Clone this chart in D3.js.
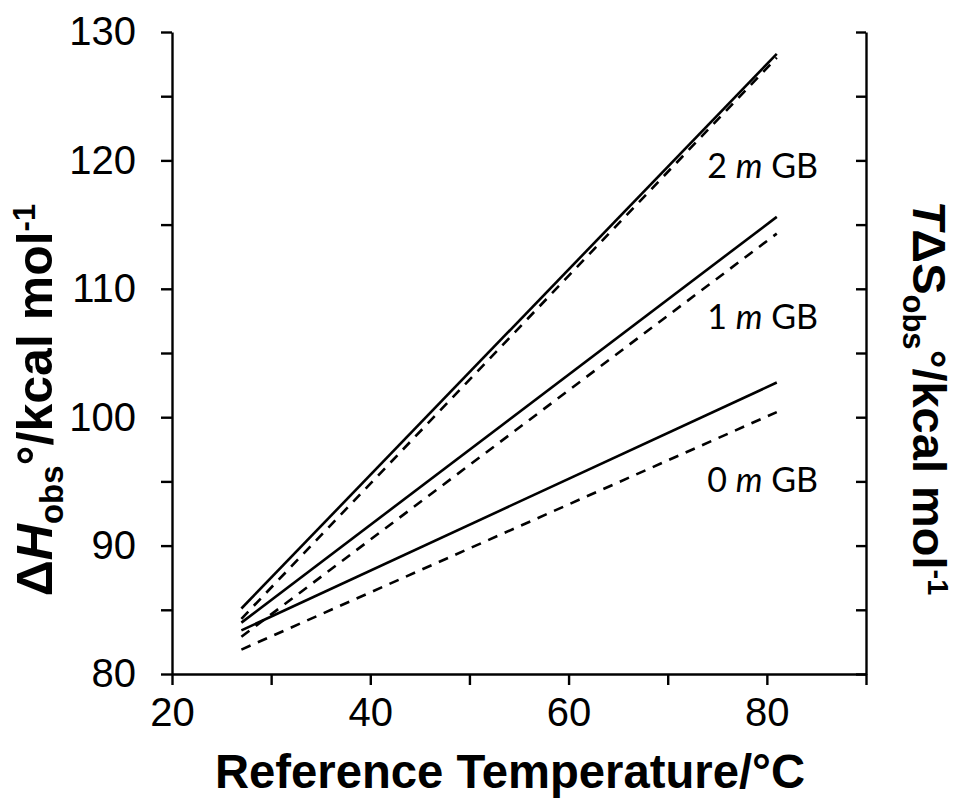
<!DOCTYPE html>
<html>
<head>
<meta charset="utf-8">
<script src="https://cdn.jsdelivr.net/npm/d3@7"></script>
<style>
  body { margin: 0; background: #fff; }
  svg { display: block; }
</style>
</head>
<body>
<div id="chart"></div>
<script>
// data: enthalpy (solid) and entropy term (dashed)
const temps = [27, 81];
const series = ["0 m GB", "1 m GB", "2 m GB"];
const dH = [
  [83.4, 102.7],
  [84.0, 115.6],
  [85.1, 128.3]
];
const TdS = [
  [81.9, 100.4],
  [82.9, 114.3],
  [84.3, 128.0]
];
const labelY = [94.2, 106.9, 118.6];

const xTicks = [20, 40, 60, 80];
const yTicks = [80, 90, 100, 110, 120, 130];

const width = 960;
const height = 798;
const margin = { top: 32, right: 94, bottom: 124, left: 172 };

const svg = d3.select("#chart")
  .append("svg")
  .attr("width", width)
  .attr("height", height);

const x = d3.scaleLinear()
  .domain([20, 90])
  .range([margin.left, width - margin.right]);

const y = d3.scaleLinear()
  .domain([80, 130])
  .range([height - margin.bottom, margin.top]);

const tickFont = "'Liberation Sans', Arial, sans-serif";

// ---------- axes ----------
const axisStroke = 2.4;

// x axis: labels every 20, minor ticks every 10, ticks point down
const xAxis = svg.append("g")
  .attr("transform", `translate(0,${y(80)})`)
  .call(d3.axisBottom(x).tickValues(d3.range(20, 91, 10)).tickSize(11).tickSizeOuter(0)
    .tickFormat(d => xTicks.includes(d) ? d : ""));

// left axis
const yAxis = svg.append("g")
  .attr("transform", `translate(${x(20)},0)`)
  .call(d3.axisLeft(y).tickValues(d3.range(80, 131, 5)).tickSize(11).tickSizeOuter(0)
    .tickFormat(d => yTicks.includes(d) ? d : ""));

// right axis, ticks inside, no labels
const yAxisR = svg.append("g")
  .attr("transform", `translate(${x(90)},0)`)
  .call(d3.axisLeft(y).tickValues(d3.range(80, 131, 5)).tickSize(10).tickSizeOuter(0)
    .tickFormat(""));

[xAxis, yAxis, yAxisR].forEach(g => {
  g.select(".domain").attr("stroke", "#000").attr("stroke-width", axisStroke);
  g.selectAll(".tick line").attr("stroke", "#000").attr("stroke-width", axisStroke);
  g.selectAll(".tick text")
    .attr("fill", "#000")
    .style("font-family", tickFont)
    .style("font-size", "40px");
});

xAxis.selectAll(".tick text").attr("y", 24).attr("dy", "0.71em");
yAxis.selectAll(".tick text").attr("x", -36);

// ---------- lines ----------
const line = d3.line()
  .x((d, i) => x(temps[i]))
  .y(d => y(d));

const plot = svg.append("g");

dH.forEach(s => {
  plot.append("path")
    .attr("d", line(s))
    .attr("fill", "none")
    .attr("stroke", "#000")
    .attr("stroke-width", 2.6);
});

TdS.forEach(s => {
  plot.append("path")
    .attr("d", line(s))
    .attr("fill", "none")
    .attr("stroke", "#000")
    .attr("stroke-width", 2.6)
    .attr("stroke-dasharray", "10,8");
});

// ---------- series labels ----------
series.forEach((s, i) => {
  const parts = s.split(" ");
  const t = svg.append("text")
    .attr("x", x(74))
    .attr("y", y(labelY[i]))
    .style("font-family", "Lato, 'Open Sans', sans-serif")
    .style("font-size", "34px")
    .attr("fill", "#000");
  t.append("tspan").text(parts[0] + " ");
  t.append("tspan").style("font-style", "italic").text(parts[1]);
  t.append("tspan").text(" " + parts[2]);
});

// ---------- axis titles ----------
const titleFont = "'Liberation Sans', Arial, sans-serif";

svg.append("text")
  .attr("x", 510)
  .attr("y", 788)
  .attr("text-anchor", "middle")
  .attr("textLength", 590)
  .attr("lengthAdjust", "spacingAndGlyphs")
  .style("font-family", titleFont)
  .style("font-weight", "700")
  .style("font-size", "48px")
  .text("Reference Temperature/°C");

const leftTitle = svg.append("text")
  .attr("transform", "translate(52,400) rotate(-90)")
  .attr("text-anchor", "middle")
  .style("font-family", titleFont)
  .style("font-weight", "700")
  .style("font-size", "50px");
leftTitle.append("tspan").text("Δ");
leftTitle.append("tspan").style("font-style", "italic").text("H");
leftTitle.append("tspan").style("font-size", "33px").attr("dy", 11).text("obs");
leftTitle.append("tspan").attr("dy", -11).text("°/kcal mol");
leftTitle.append("tspan").style("font-size", "31px").attr("dy", -17).text("-1");

const rightTitle = svg.append("text")
  .attr("transform", "translate(913,398) rotate(90)")
  .attr("text-anchor", "middle")
  .style("font-family", titleFont)
  .style("font-weight", "700")
  .style("font-size", "47px");
rightTitle.append("tspan").style("font-style", "italic").text("T");
rightTitle.append("tspan").text("ΔS");
rightTitle.append("tspan").style("font-size", "31px").attr("dy", 10).text("obs");
rightTitle.append("tspan").attr("dy", -10).text("°/kcal mol");
rightTitle.append("tspan").style("font-size", "29px").attr("dy", -15).text("-1");
</script>
</body>
</html>
